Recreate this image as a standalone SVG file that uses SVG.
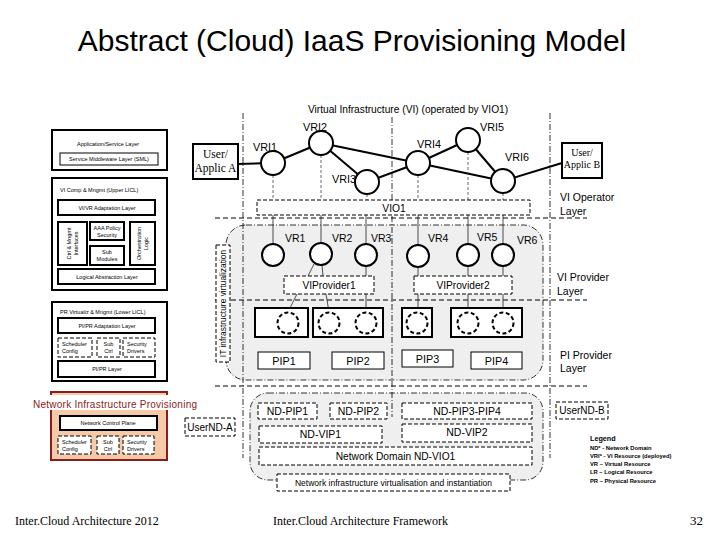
<svg xmlns="http://www.w3.org/2000/svg" width="720" height="540" viewBox="0 0 720 540">
<style>
text{font-family:"Liberation Sans",Arial,sans-serif;fill:#000}
.serif{font-family:"Liberation Serif","Times New Roman",serif}
.s6{font-size:5.5px}
.l11{font-size:10.8px}
.l10{font-size:10.5px}
.mid{text-anchor:middle}
.thick{fill:#fff;stroke:#000;stroke-width:2}
.thin{fill:#fff;stroke:#000;stroke-width:1}
.dbox{fill:#fff;stroke:#000;stroke-width:1;stroke-dasharray:4 2}
.circ{fill:#fff;stroke:#000;stroke-width:2}
.pc{fill:#fff;stroke:#000;stroke-width:2;stroke-dasharray:4 2.5}
.link{stroke:#000;stroke-width:2;fill:none}
.conn{stroke:#222;stroke-width:0.8;fill:none}
.connd{stroke:#444;stroke-width:0.8;stroke-dasharray:3 2;fill:none}
.divv{stroke:#000;stroke-width:0.8;stroke-dasharray:6 2 1 2;fill:none}
.divh{stroke:#000;stroke-width:1;stroke-dasharray:5 3;fill:none}
.region{fill:#efefef;stroke:#000;stroke-width:0.8;stroke-dasharray:6 2 1 2}
.leg{font-size:5.8px;font-weight:bold}
</style>
<rect width="720" height="540" fill="#fff"/>

<text x="352" y="51" class="mid" font-size="30">Abstract (Cloud) IaaS Provisioning Model</text>

<!-- Left panel -->
<g id="app-layer">
<rect x="52" y="130" width="115" height="40" class="thick"/>
<text x="108" y="146" class="s6 mid">Application/Service Layer</text>
<rect x="60" y="153" width="98" height="12" class="thin"/>
<text x="109" y="161" class="s6 mid">Service Middleware Layer (SML)</text>
</g>
<g id="upper-licl">
<rect x="52" y="178" width="115" height="112" class="thick"/>
<text x="60" y="192" class="s6">VI Comp &amp; Mngmt (Upper LICL)</text>
<rect x="58" y="200" width="97" height="15" class="thick"/>
<text x="107" y="210" class="s6 mid">VI/VR Adaptation Layer</text>
<rect x="58" y="222" width="29" height="43" class="thick"/>
<text transform="translate(71,243.5) rotate(-90)" class="s6 mid">Ctrl &amp; Mngmt</text>
<text transform="translate(78,243.5) rotate(-90)" class="s6 mid">Interfaces</text>
<rect x="90" y="222" width="34" height="18" class="thick"/>
<text x="107" y="230" class="s6 mid">AAA Policy</text>
<text x="107" y="237" class="s6 mid">Security</text>
<rect x="90" y="246" width="34" height="19" class="thick"/>
<text x="107" y="254" class="s6 mid">Sub</text>
<text x="107" y="261" class="s6 mid">Modules</text>
<rect x="130" y="222" width="25" height="43" class="thick"/>
<text transform="translate(141,243.5) rotate(-90)" class="s6 mid">Orchestration</text>
<text transform="translate(148,243.5) rotate(-90)" class="s6 mid">Logic</text>
<rect x="58" y="269" width="97" height="15" class="thick"/>
<text x="107" y="279" class="s6 mid">Logical Abstraction Layer</text>
</g>
<g id="lower-licl">
<rect x="52" y="302" width="115" height="79" class="thick"/>
<text x="60" y="314" class="s6">PR Virtualiz &amp; Mngmt (Lower LICL)</text>
<rect x="58" y="318" width="97" height="15" class="thick"/>
<text x="107" y="328" class="s6 mid">PI/PR Adaptation Layer</text>
<rect x="58" y="338" width="34" height="19" class="dbox"/>
<text x="62" y="346" class="s6">Scheduler</text>
<text x="62" y="353" class="s6">Config</text>
<rect x="97" y="338" width="23" height="19" class="dbox"/>
<text x="108.5" y="346" class="s6 mid">Sub</text>
<text x="108.5" y="353" class="s6 mid">Ctrl</text>
<rect x="123" y="338" width="32" height="19" class="dbox"/>
<text x="127" y="346" class="s6">Security</text>
<text x="127" y="353" class="s6">Drivers</text>
<rect x="58" y="361" width="97" height="16" class="thick"/>
<text x="107" y="371" class="s6 mid">PI/PR Layer</text>
</g>
<g id="net-provisioning">
<rect x="51" y="392" width="116" height="68" fill="#f6c9a8" stroke="#8b1c1c" stroke-width="2"/>
<rect x="33" y="395" width="166" height="15" fill="#fff"/>
<text x="115" y="408" class="mid" font-size="10" style="fill:#8b1c1c" textLength="164">Network Infrastructure Provisioning</text>
<rect x="60" y="416" width="97" height="14" class="thick"/>
<text x="108" y="425" class="s6 mid">Network Control Plane</text>
<rect x="58" y="436" width="33" height="18" class="dbox"/>
<text x="62" y="444" class="s6">Scheduler</text>
<text x="62" y="451" class="s6">Config</text>
<rect x="97" y="436" width="22" height="18" class="dbox"/>
<text x="108" y="444" class="s6 mid">Sub</text>
<text x="108" y="451" class="s6 mid">Ctrl</text>
<rect x="123" y="436" width="31" height="18" class="dbox"/>
<text x="127" y="444" class="s6">Security</text>
<text x="127" y="451" class="s6">Drivers</text>
</g>

<!-- Regions -->
<g id="vr-region">
<rect x="226" y="225" width="317" height="155" rx="20" class="region"/>
</g>
<g id="nd-region">
<rect x="250" y="393" width="293" height="87" rx="18" class="region"/>
</g>

<!-- Divider lines -->
<g id="dividers">
<line x1="243" y1="113" x2="243" y2="458" class="divv"/>
<line x1="392" y1="117" x2="392" y2="417" class="divv"/>
<line x1="550" y1="113" x2="550" y2="458" class="divv"/>
<line x1="215" y1="218" x2="587" y2="218" class="divh"/>
<line x1="215" y1="300" x2="587" y2="300" class="divh"/>
<line x1="215" y1="386" x2="587" y2="386" class="divh"/>
</g>

<text x="408" y="113" class="mid" font-size="10.2">Virtual Infrastructure (VI) (operated by VIO1)</text>

<!-- Connectors -->
<g id="connectors">
<line x1="238" y1="164" x2="273" y2="163" class="link"/>
<line x1="273" y1="163" x2="321" y2="143" class="link"/>
<line x1="321" y1="143" x2="367" y2="182" class="link"/>
<line x1="321" y1="143" x2="418" y2="163" class="link"/>
<line x1="367" y1="182" x2="418" y2="163" class="link"/>
<line x1="418" y1="163" x2="468" y2="140" class="link"/>
<line x1="468" y1="140" x2="503" y2="181" class="link"/>
<line x1="418" y1="163" x2="503" y2="181" class="link"/>
<line x1="503" y1="181" x2="562" y2="163" class="link"/>
<line x1="273" y1="175" x2="273" y2="200" class="connd"/>
<line x1="321" y1="155" x2="321" y2="200" class="connd"/>
<line x1="367" y1="194" x2="367" y2="200" class="connd"/>
<line x1="418" y1="175" x2="418" y2="200" class="connd"/>
<line x1="468" y1="152" x2="468" y2="200" class="connd"/>
<line x1="503" y1="193" x2="503" y2="200" class="connd"/>
<line x1="273" y1="215" x2="273" y2="244" class="conn"/>
<line x1="321" y1="215" x2="321" y2="243" class="conn"/>
<line x1="366" y1="215" x2="366" y2="244" class="conn"/>
<line x1="418" y1="215" x2="418" y2="245" class="conn"/>
<line x1="468" y1="215" x2="468" y2="244" class="conn"/>
<line x1="503" y1="215" x2="503" y2="244" class="conn"/>
<line x1="314" y1="264" x2="308" y2="276" class="conn"/>
<line x1="322" y1="265" x2="323" y2="276" class="conn"/>
<line x1="366" y1="266" x2="366" y2="276" class="conn"/>
<line x1="418" y1="267" x2="418" y2="276" class="conn"/>
<line x1="468" y1="266" x2="468" y2="276" class="conn"/>
<line x1="503" y1="266" x2="503" y2="276" class="conn"/>
<line x1="297" y1="294" x2="288" y2="312" class="conn"/>
<line x1="326" y1="294" x2="329" y2="312" class="conn"/>
<line x1="366" y1="294" x2="366" y2="312" class="conn"/>
<line x1="418" y1="294" x2="418" y2="312" class="conn"/>
<line x1="468" y1="294" x2="468" y2="312" class="conn"/>
<line x1="503" y1="294" x2="503" y2="312" class="conn"/>
</g>

<!-- User boxes -->
<g id="user-a">
<rect x="193" y="144" width="45" height="35" class="thick"/>
<text x="215.5" y="158" class="serif mid" font-size="11.5">User/</text>
<text x="215.5" y="172" class="serif mid" font-size="11.5">Applic A</text>
</g>
<g id="user-b">
<rect x="562" y="143" width="40" height="35" class="thick"/>
<text x="582" y="156" class="serif mid" font-size="10">User/</text>
<text x="582" y="168" class="serif mid" font-size="10">Applic B</text>
</g>

<!-- VRI nodes -->
<g id="vri1"><circle cx="273" cy="163" r="12" class="circ"/><text x="253" y="151" class="l11">VRI1</text></g>
<g id="vri2"><circle cx="321" cy="143" r="12" class="circ"/><text x="303" y="131" class="l11">VRI2</text></g>
<g id="vri3"><circle cx="367" cy="182" r="12" class="circ"/><text x="332" y="183" class="l11">VRI3</text></g>
<g id="vri4"><circle cx="418" cy="163" r="12" class="circ"/><text x="417" y="148" class="l11">VRI4</text></g>
<g id="vri5"><circle cx="468" cy="140" r="12" class="circ"/><text x="480" y="131" class="l11">VRI5</text></g>
<g id="vri6"><circle cx="503" cy="181" r="12" class="circ"/><text x="505" y="161" class="l11">VRI6</text></g>

<g id="vio1">
<rect x="257" y="200" width="273" height="15" class="dbox"/>
<text x="394" y="212" class="mid" font-size="10.3">VIO1</text>
</g>

<!-- VR nodes -->
<g id="vr1"><circle cx="273" cy="255" r="11" class="circ"/><text x="285" y="242" class="l10">VR1</text></g>
<g id="vr2"><circle cx="321" cy="254" r="11" class="circ"/><text x="332" y="242" class="l10">VR2</text></g>
<g id="vr3"><circle cx="366" cy="255" r="11" class="circ"/><text x="371" y="242" class="l10">VR3</text></g>
<g id="vr4"><circle cx="418" cy="256" r="11" class="circ"/><text x="428" y="242" class="l10">VR4</text></g>
<g id="vr5"><circle cx="468" cy="255" r="11" class="circ"/><text x="477" y="241" class="l10">VR5</text></g>
<g id="vr6"><circle cx="503" cy="255" r="11" class="circ"/><text x="517" y="244" class="l10">VR6</text></g>

<g id="viprovider1">
<rect x="284" y="276" width="90" height="18" class="dbox"/>
<text x="329" y="289" class="mid" font-size="10.2">VIProvider1</text>
</g>
<g id="viprovider2">
<rect x="414" y="276" width="98" height="18" class="dbox"/>
<text x="463" y="289" class="mid" font-size="10.2">VIProvider2</text>
</g>

<!-- Physical resources -->
<g id="pr1"><rect x="255" y="308" width="53" height="29" class="thick"/><circle cx="288" cy="323" r="10.5" class="pc"/></g>
<g id="pr2"><rect x="313" y="308" width="70" height="29" class="thick"/><circle cx="329" cy="323" r="10.5" class="pc"/><circle cx="366" cy="323" r="10.5" class="pc"/></g>
<g id="pr3"><rect x="402" y="308" width="30" height="29" class="thick"/><circle cx="417" cy="323" r="10.5" class="pc"/></g>
<g id="pr4"><rect x="451" y="308" width="71" height="29" class="thick"/><circle cx="468" cy="323" r="10.5" class="pc"/><circle cx="503" cy="323" r="10.5" class="pc"/></g>

<g id="pip1"><rect x="258" y="352" width="52" height="17" class="thin"/><text x="284" y="365" class="l11 mid">PIP1</text></g>
<g id="pip2"><rect x="332" y="352" width="52" height="17" class="thin"/><text x="358" y="365" class="l11 mid">PIP2</text></g>
<g id="pip3"><rect x="402" y="350" width="51" height="17" class="thin"/><text x="427.5" y="363" class="l11 mid">PIP3</text></g>
<g id="pip4"><rect x="471" y="352" width="51" height="17" class="thin"/><text x="496.5" y="365" class="l11 mid">PIP4</text></g>

<g id="it-virt">
<rect x="216" y="245" width="14" height="117" class="dbox"/>
<text transform="translate(226,303.5) rotate(-90)" class="mid" font-size="8.4">IT infrastructure virtualization</text>
</g>

<!-- Network domain -->
<g id="nd-pip1"><rect x="258" y="403" width="59" height="16" class="dbox"/><text x="287.5" y="415" class="mid" font-size="10.5">ND-PIP1</text></g>
<g id="nd-pip2"><rect x="330" y="403" width="57" height="16" class="dbox"/><text x="358.5" y="415" class="mid" font-size="10.5">ND-PIP2</text></g>
<g id="nd-pip34"><rect x="402" y="403" width="130" height="16" class="dbox"/><text x="467" y="415" class="mid" font-size="10.5">ND-PIP3-PIP4</text></g>
<g id="nd-vip1"><rect x="259" y="426" width="123" height="17" class="dbox"/><text x="320.5" y="438" class="mid" font-size="10.5">ND-VIP1</text></g>
<g id="nd-vip2"><rect x="402" y="424" width="130" height="18" class="dbox"/><text x="467" y="436" class="mid" font-size="10.5">ND-VIP2</text></g>
<g id="nd-vio1"><rect x="259" y="447" width="273" height="18" class="dbox"/><text x="395.5" y="460" class="mid" font-size="10.2">Network Domain ND-VIO1</text></g>
<g id="nd-virt"><rect x="277" y="474" width="233" height="17" class="dbox"/><text x="393.5" y="486" class="mid" font-size="8.5">Network infrastructure virtualisation and instantiation</text></g>

<g id="usernd-a"><rect x="185" y="418" width="50" height="18" class="dbox"/><text x="210" y="431" class="mid" font-size="10">UserND-A</text></g>
<g id="usernd-b"><rect x="556" y="402" width="52" height="17" class="dbox"/><text x="582" y="414" class="mid" font-size="10">UserND-B</text></g>

<!-- Layer labels -->
<g id="layer-labels">
<text x="560" y="201" class="l10">VI Operator</text>
<text x="560" y="215" class="l10">Layer</text>
<text x="557" y="281" class="l10">VI Provider</text>
<text x="557" y="295" class="l10">Layer</text>
<text x="560" y="359" class="l10">PI Provider</text>
<text x="560" y="372" class="l10">Layer</text>
</g>

<g id="legend">
<text x="590" y="441" font-size="7.2" font-weight="bold">Legend</text>
<text x="590" y="449.5" class="leg">ND* - Network Domain</text>
<text x="590" y="458" class="leg">VRI* - VI Resource (deployed)</text>
<text x="590" y="466" class="leg">VR – Virtual Resource</text>
<text x="590" y="474" class="leg">LR – Logical Resource</text>
<text x="590" y="483" class="leg">PR – Physical Resource</text>
</g>

<g id="footer">
<text x="15" y="525" class="serif" font-size="12">Inter.Cloud Architecture 2012</text>
<text x="273" y="525" class="serif" font-size="12">Inter.Cloud Architecture Framework</text>
<text x="703" y="525" class="serif" font-size="13" text-anchor="end">32</text>
</g>
</svg>
